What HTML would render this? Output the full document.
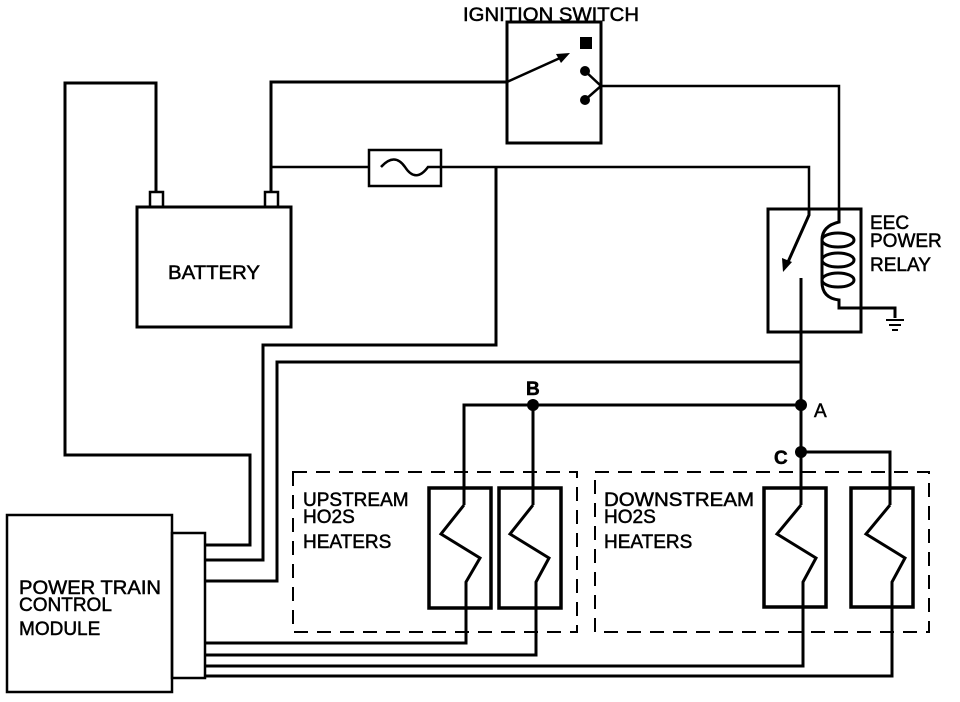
<!DOCTYPE html>
<html><head><style>html,body{margin:0;padding:0;background:#fff}svg{display:block}text{font-family:"Liberation Sans",Arial,sans-serif;font-size:19px;fill:#000;stroke:#000;stroke-width:0.5}</style></head>
<body>
<svg width="960" height="702" viewBox="0 0 960 702" xmlns="http://www.w3.org/2000/svg">
<g fill="none" stroke="#000" stroke-width="3" stroke-linejoin="miter">
<rect x="507" y="22" width="94" height="121"/>
<rect x="580" y="37" width="12" height="12" fill="#000" stroke="none"/>
<circle cx="585" cy="71" r="5" fill="#000" stroke="none"/>
<circle cx="585" cy="100" r="5" fill="#000" stroke="none"/>
<path d="M585 71 L601 86 L585 100" stroke-width="2.5"/>
<path d="M507 82 L560 58" stroke-width="2.5"/>
<path d="M570 53 L556 54 L561 63 Z" fill="#000" stroke="none"/>
<rect x="137" y="207" width="154" height="120"/>
<rect x="150" y="192" width="13" height="15" stroke-width="2.5"/>
<rect x="265" y="192" width="13" height="15" stroke-width="2.5"/>
<path d="M156 192 V83 H65 V455 H250 V545 H205"/>
<path d="M271 192 V82 H507"/>
<path d="M271 167 H369" stroke-width="2.5"/>
<rect x="369" y="150" width="72" height="36" stroke-width="2.5"/>
<path d="M381 167 C390 157,398 157,405 167 C412 178,420 178,428 167 H441" stroke-width="2.5"/>
<path d="M441 167 H809 V209" stroke-width="2.5"/>
<path d="M496 167 V345 H263 V560 H205"/>
<path d="M801 362 H277 V581 H205"/>
<path d="M601 86 H839 V209" stroke-width="2.5"/>
<rect x="768" y="209" width="93" height="123"/>
<path d="M809 209 V215 L788 262"/>
<path d="M783 272 L782 258 L792 262 Z" fill="#000" stroke="none"/>
<path d="M801 278 V405"/>
<path d="M839 209 V222 Q822 226 822 240 V282 Q822 298 839 300 V308 H895 V318"/>
<ellipse cx="838" cy="240" rx="16" ry="7"/>
<ellipse cx="838" cy="260" rx="16" ry="7"/>
<ellipse cx="838" cy="280" rx="16" ry="7"/>
<path d="M886 320 H904 M889 325 H901 M892 330 H898" stroke-width="2"/>
<path d="M464 505 V405 H801 V452 H890 V505"/>
<path d="M533 405 V505"/>
<path d="M801 452 V505"/>
<rect x="293" y="472" width="284" height="160" stroke-width="2" stroke-dasharray="14,9"/>
<rect x="595" y="472" width="334" height="160" stroke-width="2" stroke-dasharray="14,9"/>
<g stroke-width="3.5">
<rect x="429" y="488" width="62" height="120"/>
<rect x="499" y="488" width="62" height="120"/>
<rect x="764" y="488" width="62" height="119"/>
<rect x="851" y="488" width="62" height="119"/>
</g>
<path d="M464 505 L441 534 L480 558 L466 582 V643 H205"/>
<path d="M533 505 L510 534 L549 558 L536 582 V655 H205"/>
<path d="M801 505 L777 534 L816 558 L803 582 V666 H205"/>
<path d="M890 505 L866 534 L905 558 L892 582 V676 H205"/>
<rect x="7" y="515" width="165" height="177" stroke-width="2.5"/>
<rect x="172" y="533" width="33" height="145" stroke-width="2.5"/>
</g>
<circle cx="533" cy="405" r="6"/>
<circle cx="801" cy="405" r="6"/>
<circle cx="801" cy="452" r="6"/>
<text x="463" y="21" textLength="176" lengthAdjust="spacingAndGlyphs">IGNITION SWITCH</text>
<text x="168" y="279" textLength="92" lengthAdjust="spacingAndGlyphs">BATTERY</text>
<text x="870" y="229">EEC</text>
<text x="870" y="247">POWER</text>
<text x="870" y="271">RELAY</text>
<text x="526" y="395" font-weight="bold">B</text>
<text x="814" y="417">A</text>
<text x="774" y="464" font-weight="bold">C</text>
<text x="303" y="506">UPSTREAM</text>
<text x="303" y="523">HO2S</text>
<text x="303" y="548">HEATERS</text>
<text x="604" y="506" textLength="150" lengthAdjust="spacingAndGlyphs">DOWNSTREAM</text>
<text x="604" y="523">HO2S</text>
<text x="604" y="548">HEATERS</text>
<text x="19" y="594" textLength="142" lengthAdjust="spacingAndGlyphs">POWER TRAIN</text>
<text x="19" y="611">CONTROL</text>
<text x="19" y="635">MODULE</text>
</svg>
</body></html>
